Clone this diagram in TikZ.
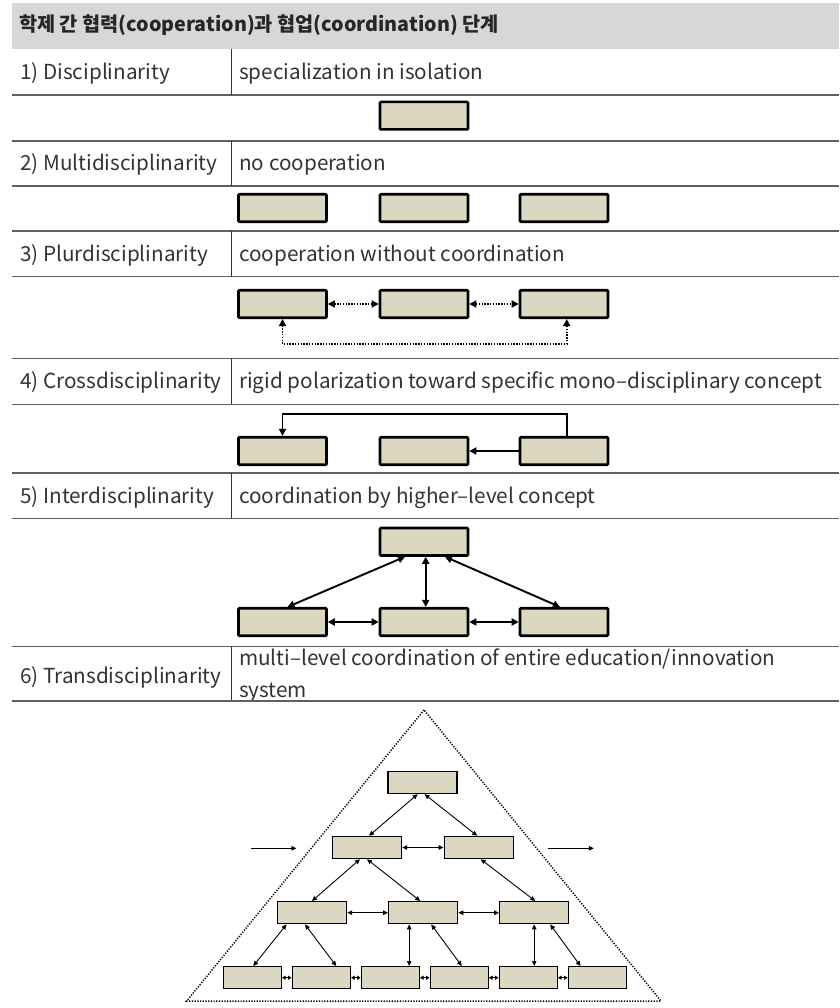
\documentclass[tikz,border=0pt]{standalone}
\usepackage{fontspec}
\setmainfont{Noto Sans CJK KR}
\usetikzlibrary{arrows.meta,calc}
\definecolor{boxfill}{RGB}{219,215,193}
\definecolor{rulegray}{RGB}{95,95,95}
\definecolor{txt}{RGB}{51,51,51}
\definecolor{headgray}{RGB}{215,215,215}
\begin{document}
\begin{tikzpicture}[x=1pt,y=-1pt,
  tbox/.style={draw=black, fill=boxfill, line width=2.6pt, minimum width=88pt, minimum height=27.5pt, inner sep=0pt, rounded corners=1pt},
  sbox/.style={draw=black, fill=boxfill, line width=1.4pt, minimum width=69pt, minimum height=22pt, inner sep=0pt},
  s4box/.style={sbox, minimum width=58pt},
  lbl/.style={anchor=base west, inner sep=0pt, text=txt, font=\fontsize{20.7}{25}\selectfont},
  hdr/.style={anchor=base west, inner sep=0pt, text=black!85, font=\bfseries\fontsize{19.7}{24}\selectfont},
  rule/.style={draw=rulegray, line width=1.6pt},
  divider/.style={draw=black!80, line width=1.2pt},
  tkarrow/.style={line width=1.9pt, {Triangle[length=7pt,width=7pt]}-{Triangle[length=7pt,width=7pt]}},
  tkline/.style={line width=1.9pt},
  dotarr/.style={line width=1.6pt, dash pattern=on 1.4pt off 1.4pt, {Triangle[length=7pt,width=7pt]}-{Triangle[length=7pt,width=7pt]}},
  tarrow/.style={line width=0.9pt, {Triangle[length=5pt,width=4.5pt]}-{Triangle[length=5pt,width=4.5pt]}},
  tiny/.style={line width=0.9pt, {Triangle[length=3.5pt,width=4pt]}-{Triangle[length=3.5pt,width=4pt]}},
  side/.style={line width=0.9pt, -{Triangle[length=5pt,width=4.5pt]}},
  tri/.style={line width=1.5pt, dash pattern=on 1.2pt off 1.5pt}
]
\useasboundingbox (0,0) rectangle (839,1008);
% header band
\fill[headgray] (12,3) rectangle (839,49);
\node[hdr] (head) at (19,32) {학제 간 협력(cooperation)과 협업(coordination) 단계};

% rules
\foreach \yy in {95,141,186,231,276.5,358.3,404.3,472.7,518.3,646.3} {
  \draw[rule] (12,\yy) -- (839,\yy);
}
% dividers
\draw[divider] (231.7,49) -- (231.7,95);
\draw[divider] (231.7,141) -- (231.7,186);
\draw[divider] (231.7,231) -- (231.7,276.5);
\draw[divider] (231.7,358.3) -- (231.7,404.3);
\draw[divider] (231.7,472.7) -- (231.7,518.3);
\draw[divider] (231.7,646.3) -- (231.7,700.7);

% texts
\node[lbl] (r1a) at (20,80) {1) Disciplinarity};
\node[lbl] (r1b) at (239,80) {specialization in isolation};
\node[lbl] (r2a) at (20,170.7) {2) Multidisciplinarity};
\node[lbl] (r2b) at (239,170.7) {no cooperation};
\node[lbl] (r3a) at (20,261.5) {3) Plurdisciplinarity};
\node[lbl] (r3b) at (239,261.5) {cooperation without coordination};
\node[lbl] (r4a) at (20,388) {4) Crossdisciplinarity};
\node[lbl] (r4b) at (239,388) {rigid polarization toward specific mono–disciplinary concept};
\node[lbl] (r5a) at (20,503) {5) Interdisciplinarity};
\node[lbl] (r5b) at (239,503) {coordination by higher–level concept};
\node[lbl] (r6a) at (20,683) {6) Transdisciplinarity};
\node[lbl] (r6b) at (239,665) {multi–level coordination of entire education/innovation};
\node[lbl] (r6c) at (239,697) {system};
\draw[rule] (12,700.7) -- (839,700.7);

% 1) disciplinarity
\node[tbox] (d1) at (424,115.7) {};
% 2) multi
\node[tbox] (m1) at (282.5,208) {};
\node[tbox] (m2) at (424,208) {};
\node[tbox] (m3) at (564,208) {};
% 3) plur
\node[tbox] (p1) at (282.5,304) {};
\node[tbox] (p2) at (424,304) {};
\node[tbox] (p3) at (564,304) {};
\draw[dotarr] (p1.east) -- (p2.west);
\draw[dotarr] (p2.east) -- (p3.west);
\draw[dotarr] (p1.south) -- ++(0,25) -| ($(p3.south)+(2.7,0)$);
% 4) cross
\node[tbox] (c1) at (282.5,451) {};
\node[tbox] (c2) at (424,451) {};
\node[tbox] (c3) at (564,451) {};
\draw[tkline, -{Triangle[length=7pt,width=7pt]}] ($(c3.north)+(2.7,0)$) |- ($(c1.north)+(0,-22.4)$) -- (c1.north);
\draw[tkline, -{Triangle[length=7pt,width=7pt]}] (c3.west) -- (c2.east);
% 5) inter
\node[tbox] (i0) at (424,541.7) {};
\node[tbox] (i1) at (282.5,622) {};
\node[tbox] (i2) at (424,622) {};
\node[tbox] (i3) at (564,622) {};
\draw[tkarrow] ($(i0.south)+(-19,0)$) -- ($(i1.north)+(5,0)$);
\draw[tkarrow] ($(i0.south)+(1.7,0)$) -- ($(i2.north)+(1.7,0)$);
\draw[tkarrow] ($(i0.south)+(21,0)$) -- ($(i3.north)+(-4,0)$);
\draw[tkarrow] (i1.east) -- (i2.west);
\draw[tkarrow] (i2.east) -- (i3.west);

% 6) trans
\coordinate (apex) at (424,710);
\coordinate (bl) at (186.7,1001);
\coordinate (br) at (661,1001);
\draw[tri] (apex) -- (bl) -- (br) -- cycle;
\node[sbox] (t0) at (422.6,782.5) {};
\node[sbox] (t21) at (367,847.5) {};
\node[sbox] (t22) at (478.7,847.5) {};
\node[sbox] (t31) at (312,912.7) {};
\node[sbox] (t32) at (423.2,912.7) {};
\node[sbox] (t33) at (534.2,912.7) {};
\node[s4box] (t41) at (252.3,977.7) {};
\node[s4box] (t42) at (321.3,977.7) {};
\node[s4box] (t43) at (390.3,977.7) {};
\node[s4box] (t44) at (459.3,977.7) {};
\node[s4box] (t45) at (528.3,977.7) {};
\node[s4box] (t46) at (597.3,977.7) {};
\draw[tarrow] ($(t0.south)+(-5,0)$) -- ($(t21.north)+(2,0)$);
\draw[tarrow] ($(t0.south)+(2,0)$) -- ($(t22.north)+(-1.5,0)$);
\draw[tarrow] (t21.east) -- (t22.west);
\draw[tarrow] ($(t21.south)+(-7,0)$) -- (t31.north);
\draw[tarrow] (t21.south) -- ($(t32.north)+(-3,0)$);
\draw[tarrow] ($(t22.south)+(2,0)$) -- ($(t33.north)+(1,0)$);
\draw[tarrow] (t31.east) -- (t32.west);
\draw[tarrow] (t32.east) -- (t33.west);
\draw[tarrow] ($(t31.south)+(-25.5,0)$) -- ($(t41.north)+(1,0)$);
\draw[tarrow] ($(t31.south)+(-7,0)$) -- ($(t42.north)+(15,0)$);
\draw[tarrow] ($(t32.south)+(-14,0)$) -- ($(t43.north)+(18.9,0)$);
\draw[tarrow] ($(t32.south)+(8,0)$) -- ($(t44.north)+(2.5,0)$);
\draw[tarrow] (t33.south) -- ($(t45.north)+(5.9,0)$);
\draw[tarrow] ($(t33.south)+(16,0)$) -- ($(t46.north)+(-16.8,0)$);
\draw[tiny] (t41.east) -- (t42.west);
\draw[tiny] (t42.east) -- (t43.west);
\draw[tiny] (t43.east) -- (t44.west);
\draw[tiny] (t44.east) -- (t45.west);
\draw[tiny] (t45.east) -- (t46.west);
\coordinate (la) at (251,848.3);
\coordinate (lb) at (296.3,848.3);
\coordinate (ra) at (548,848.3);
\coordinate (rb) at (593.8,848.3);
\draw[side] (la) -- (lb);
\draw[side] (ra) -- (rb);
\end{tikzpicture}
\end{document}
